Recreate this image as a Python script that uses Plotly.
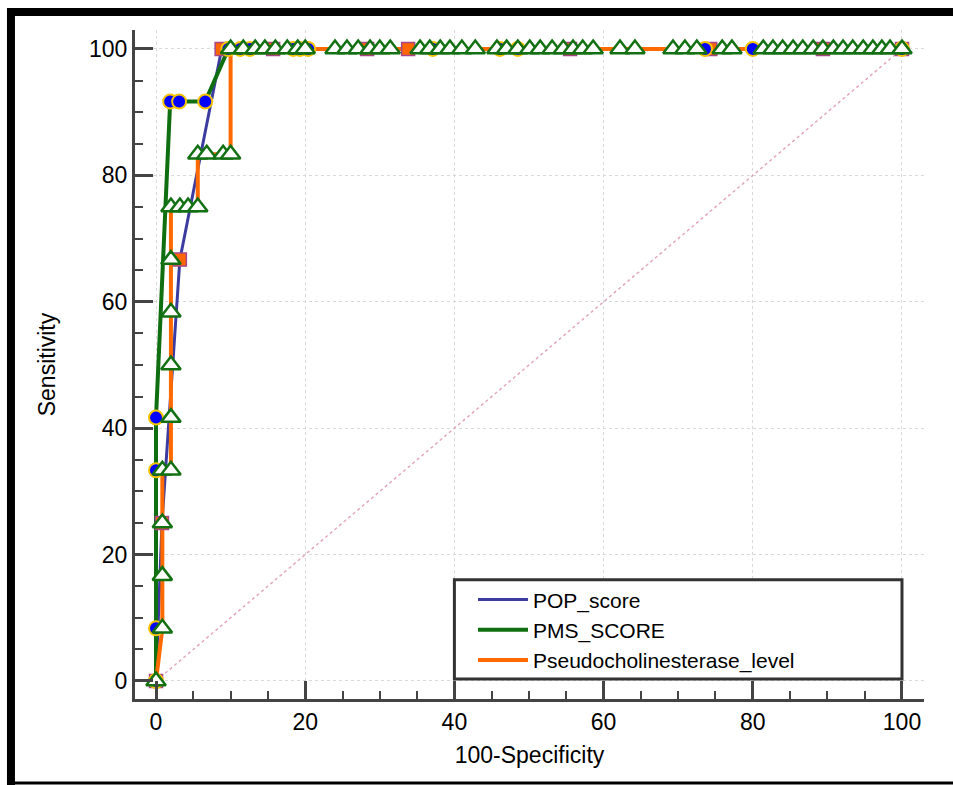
import plotly.graph_objects as go

# ---------------- data ----------------
series_names = ["POP_score", "PMS_SCORE", "Pseudocholinesterase_level"]

pop_x = [0, 0.8, 3.2, 8.8, 15.7, 28.3, 33.8, 55.5, 74.3, 89.4, 100]
pop_y = [0, 25, 66.67, 100, 100, 100, 100, 100, 100, 100, 100]

pms_x = [0, 0, 0, 0, 1.9, 3.1, 6.6, 9.7, 11.3, 12.6, 18.4, 19.3, 20.4,
         37.1, 46.1, 48.5, 73.6, 80.0, 100]
pms_y = [0, 8.33, 33.33, 41.67, 91.67, 91.67, 91.67, 100, 100, 100, 100, 100, 100,
         100, 100, 100, 100, 100, 100]

pse_x = [0, 0.85, 0.85, 0.85, 0.85, 2.0, 2.0, 2.0, 2.0, 2.0, 2.0, 3.2, 4.3, 5.6,
         5.6, 6.8, 9.0, 10.0, 10.0, 11.7, 13.3, 14.6, 16.0, 17.6, 19.0, 20.0,
         24.0, 25.6, 27.1, 28.7, 30.0, 31.4, 35.4, 36.7, 38.1, 39.4, 41.0, 42.8,
         45.7, 47.0, 48.5, 50.1, 51.5, 53.1, 54.6, 55.9, 57.2, 58.6, 62.2, 64.2,
         69.3, 70.9, 72.5, 75.9, 77.2, 81.4, 82.7, 84.0, 85.4, 86.7, 88.1, 89.4,
         90.8, 92.1, 93.4, 94.8, 96.1, 97.3, 98.4, 100]
pse_y = [0, 8.33, 16.67, 25, 33.33, 33.33, 41.67, 50, 58.33, 66.67, 75, 75, 75, 75,
         83.33, 83.33, 83.33, 83.33, 100, 100, 100, 100, 100, 100, 100, 100,
         100, 100, 100, 100, 100, 100, 100, 100, 100, 100, 100, 100,
         100, 100, 100, 100, 100, 100, 100, 100, 100, 100, 100, 100,
         100, 100, 100, 100, 100, 100, 100, 100, 100, 100, 100, 100,
         100, 100, 100, 100, 100, 100, 100, 100]

diag_x = [0, 100]
diag_y = [0, 100]

x_ticks = [0, 20, 40, 60, 80, 100]
y_ticks = [0, 20, 40, 60, 80, 100]

# ---------------- styles ----------------
line_colors = ["#3c3ca0", "#0f6e0f", "#ff6a00"]
line_widths = [3, 4, 4]

fig = go.Figure()

fig.add_trace(go.Scatter(x=diag_x, y=diag_y, mode="lines", showlegend=False,
                         hoverinfo="skip",
                         line=dict(color="#e3a6bf", width=1.5, dash="dot")))

all_x = [pop_x, pms_x, pse_x]
all_y = [pop_y, pms_y, pse_y]
for name, xs, ys, c, w in zip(series_names, all_x, all_y, line_colors, line_widths):
    fig.add_trace(go.Scatter(x=xs, y=ys, mode="lines", name=name,
                             legendgroup=name, line=dict(color=c, width=w)))

fig.add_trace(go.Scatter(x=pop_x, y=pop_y, mode="markers", showlegend=False,
                         legendgroup=series_names[0],
                         marker=dict(symbol="square", size=13, color="#ff6600",
                                     line=dict(color="#a8468a", width=1.5))))
fig.add_trace(go.Scatter(x=pms_x, y=pms_y, mode="markers", showlegend=False,
                         legendgroup=series_names[1],
                         marker=dict(symbol="circle", size=14, color="#0000ff",
                                     line=dict(color="#f5c400", width=2))))
fig.add_trace(go.Scatter(x=pse_x, y=pse_y, mode="markers", showlegend=False,
                         legendgroup=series_names[2],
                         marker=dict(symbol="triangle-up", size=17, color="white",
                                     line=dict(color="#137013", width=2.5))))

axis_common = dict(
    showline=True, linecolor="#444444", linewidth=3,
    ticks="inside", ticklen=18, tickwidth=3, tickcolor="#444444",
    showgrid=True, gridcolor="#d9d9d9", gridwidth=1, griddash="dot",
    zeroline=False,
    minor=dict(dtick=5, tick0=0, ticks="inside", ticklen=8, tickwidth=2,
               tickcolor="#444444", showgrid=False),
    tickfont=dict(size=23, color="black"),
)

fig.update_xaxes(range=[-2.815, 102.95], tickvals=x_ticks,
                 title=dict(text="100-Specificity", font=dict(size=23), standoff=14),
                 **axis_common)
fig.update_yaxes(range=[-2.85, 103.0], tickvals=y_ticks,
                 title=dict(text="Sensitivity", font=dict(size=23), standoff=27),
                 **axis_common)

shapes = [
    # legend box
    dict(type="rect", xref="x", yref="y", x0=40, x1=100, y0=0.3, y1=16,
         fillcolor="white", line=dict(color="#333333", width=3), layer="above"),
    # outer frame (left, top, bottom)
    dict(type="line", xref="paper", yref="paper", x0=-0.1572, x1=-0.1572,
         y0=-0.1286, y1=1.0329, line=dict(color="black", width=8)),
    dict(type="line", xref="paper", yref="paper", x0=-0.1622, x1=1.0368,
         y0=1.0269, y1=1.0269, line=dict(color="black", width=8)),
    dict(type="line", xref="paper", yref="paper", x0=-0.1622, x1=1.0368,
         y0=-0.1256, y1=-0.1256, line=dict(color="black", width=3)),
]

fig.update_layout(
    width=953, height=785,
    margin=dict(l=135, r=29, t=30, b=86),
    plot_bgcolor="white", paper_bgcolor="white",
    font=dict(family="Liberation Sans, Arial, sans-serif", size=22, color="black"),
    shapes=shapes,
    legend=dict(x=0.4284, xanchor="left", y=0.179, yanchor="top",
                bgcolor="rgba(0,0,0,0)", borderwidth=0, itemwidth=50,
                font=dict(size=21), tracegroupgap=0),
)

fig.write_html("out.html", config={"displayModeBar": False},
               post_script="document.body.style.margin='0px';")
